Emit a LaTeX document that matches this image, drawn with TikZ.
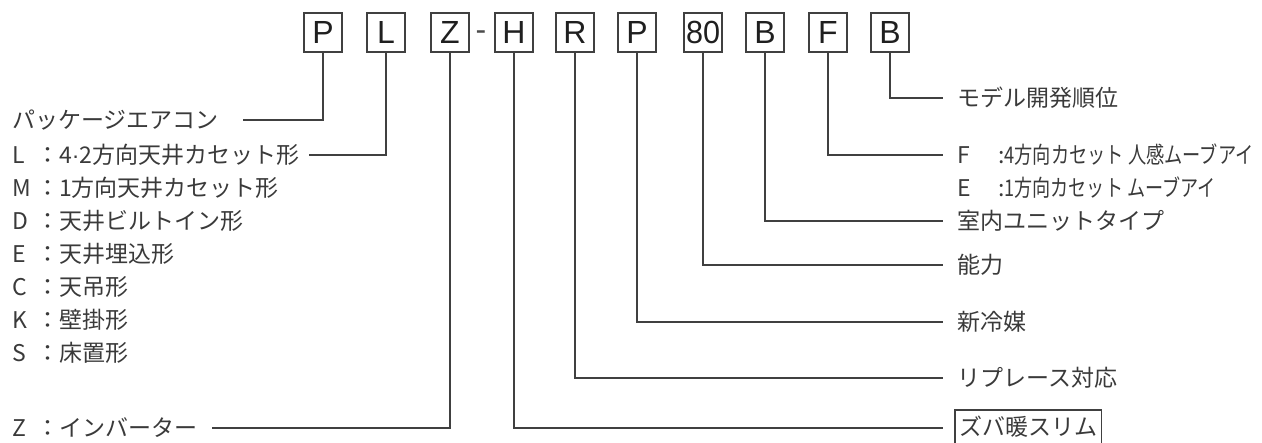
\documentclass[tikz,border=0pt]{standalone}
\usepackage{fontspec}
\usepackage{graphicx}
\setmainfont{Liberation Sans}
\newfontfamily\jp{Noto Sans CJK JP}
\newfontfamily\lat{Liberation Sans}
\definecolor{tx}{HTML}{3A3A3A}
\definecolor{ln}{HTML}{404040}
\newcommand{\codeletter}[1]{\makebox[24pt][l]{#1}}
\newcommand{\rcodeletter}[1]{\makebox[41pt][l]{#1}}
\newcommand{\boxletterfont}{\lat\fontsize{32}{36}\selectfont}
\begin{document}
\begin{tikzpicture}[x=1pt,y=-1pt,
  codebox/.style={draw=ln, line width=1.1pt, minimum width=38pt, minimum height=39pt, inner sep=0pt, font=\boxletterfont, text=black!88},
  lbl/.style={anchor=west, inner sep=0pt, font=\jp\fontsize{23}{26}\selectfont, text=tx},
  conn/.style={draw=ln, line width=1.1pt}]
\useasboundingbox (0,0) rectangle (1262,443);
% code boxes
\node[codebox] (bP)  at (323,32.5) {P};
\node[codebox] (bL)  at (386,32.5) {L};
\node[codebox] (bZ)  at (450,32.5) {Z};
\node[font=\boxletterfont, text=black!70, inner sep=0pt, anchor=base] (dash) at (481,41) {-};
\node[codebox] (bH)  at (514,32.5) {H};
\node[codebox] (bR)  at (575,32.5) {R};
\node[codebox] (bP2) at (637,32.5) {P};
\node[codebox] (b80) at (703,32.5) {\resizebox{34pt}{\height}{80}};
\node[codebox] (bB)  at (765,32.5) {B};
\node[codebox] (bF)  at (828,32.5) {F};
\node[codebox] (bB2) at (890,32.5) {B};
% left labels
\node[lbl] (tPack) at (12,120) {パッケージエアコン};
\node[lbl] (tL) at (12,155) {\codeletter{L}：4{\lat ·}2方向天井カセット形};
\node[lbl] (tM) at (12,188) {\codeletter{M}：1方向天井カセット形};
\node[lbl] (tD) at (12,221) {\codeletter{D}：天井ビルトイン形};
\node[lbl] (tE) at (12,254) {\codeletter{E}：天井埋込形};
\node[lbl] (tC) at (12,287) {\codeletter{C}：天吊形};
\node[lbl] (tK) at (12,320) {\codeletter{K}：壁掛形};
\node[lbl] (tS) at (12,353) {\codeletter{S}：床置形};
\node[lbl] (tZ) at (12,428) {\codeletter{Z}：インバーター};
% right labels
\node[lbl] (tModel) at (957,98) {モデル開発順位};
\node[lbl] (tF) at (957,155) {\rcodeletter{F}:\resizebox{249pt}{\height}{4方向カセット 人感ムーブアイ}};
\node[lbl] (tE2) at (957,188) {\rcodeletter{E}:\resizebox{211pt}{\height}{1方向カセット ムーブアイ}};
\node[lbl] (tUnit) at (957,221) {室内ユニットタイプ};
\node[lbl] (tCap) at (957,265) {能力};
\node[lbl] (tRef) at (957,322) {新冷媒};
\node[lbl] (tRep) at (957,378) {リプレース対応};
\node[lbl, anchor=north west, minimum height=33pt, inner xsep=4pt] (tZuba) at (955,410) {ズバ暖スリム};
\draw[conn] (tZuba.south west) |- (tZuba.north east) -- (tZuba.south east);
% connector ends
\coordinate (cP) at (243,120);
\coordinate (cL) at (309,155);
\coordinate (cZ) at (212,428);
\coordinate (cH) at (943,428);
\coordinate (cR) at (943,378);
\coordinate (cP2) at (943,322);
\coordinate (c80) at (943,265);
\coordinate (cB) at (943,221);
\coordinate (cF) at (943,155);
\coordinate (cB2) at (943,98);
\draw[conn] (bP.south) |- (cP);
\draw[conn] (bL.south) |- (cL);
\draw[conn] (bZ.south) |- (cZ);
\draw[conn] (bH.south) |- (cH);
\draw[conn] (bR.south) |- (cR);
\draw[conn] (bP2.south) |- (cP2);
\draw[conn] (b80.south) |- (c80);
\draw[conn] (bB.south) |- (cB);
\draw[conn] (bF.south) |- (cF);
\draw[conn] (bB2.south) |- (cB2);
\end{tikzpicture}
\end{document}
